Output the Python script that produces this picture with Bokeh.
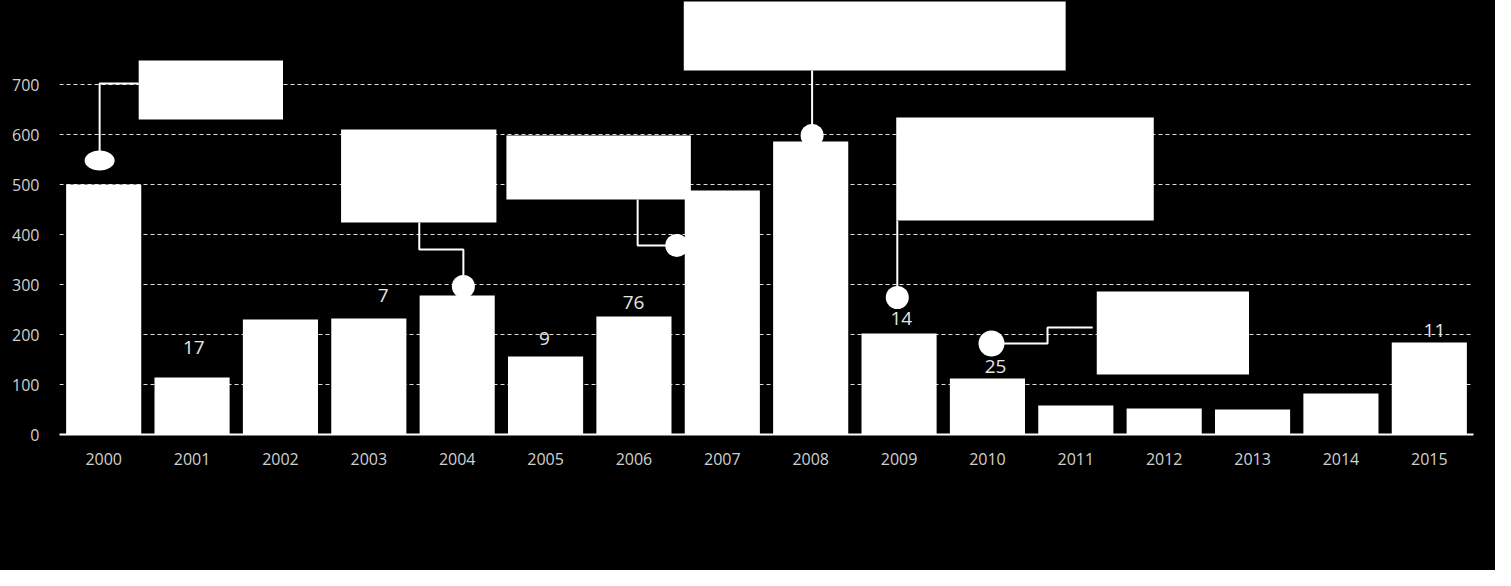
from bokeh.plotting import figure
from bokeh.models import Range1d, FixedTicker, ColumnDataSource
from bokeh.embed import file_html
from bokeh.resources import INLINE
from bokeh.core.properties import value

# ---- data ----
years = ["2000", "2001", "2002", "2003", "2004", "2005", "2006", "2007",
         "2008", "2009", "2010", "2011", "2012", "2013", "2014", "2015"]
counts = [500, 114, 230, 232, 278, 156, 236, 488, 586, 202, 112, 58, 52, 50, 82, 184]
y_ticks = [0, 100, 200, 300, 400, 500, 600, 700]

label_texts = ["17", "7", "9", "76", "14", "25", "11"]

# ---- layout of annotations (data units) ----
label_x = [1.019, 3.162, 4.988, 5.996, 9.025, 10.092, 15.058]
label_y = [174, 278, 192, 264, 232, 136, 208]

box_left = [0.396, 2.686, 4.557, 6.564, 8.968, 11.237]
box_right = [2.029, 4.444, 6.644, 10.885, 11.882, 12.960]
box_top = [748, 610, 598, 866, 634, 286]
box_bottom = [630, 424, 470, 728, 428, 120]

dot_x = [4.070, 6.485, 8.016, 8.980]
dot_y = [296, 378, 598, 274]
dot_x_big = [10.046]
dot_y_big = [182]
ell_x = [-0.046]
ell_y = [548]

conn_xs = [[-0.046, -0.046, 0.396],
           [4.070, 4.070, 3.571, 3.571],
           [6.485, 6.042, 6.042],
           [8.016, 8.016],
           [8.980, 8.980],
           [10.046, 10.680, 10.680, 11.191]]
conn_ys = [[548, 702, 702],
           [296, 370, 370, 424],
           [378, 378, 470],
           [598, 728],
           [274, 428],
           [182, 182, 214, 214]]

W, H = 1495, 570
p = figure(width=W, height=H, output_backend="svg", toolbar_location=None,
           x_range=Range1d(-0.5, 15.5), y_range=Range1d(0, 868),
           min_border_left=59, min_border_right=22, min_border_top=0,
           min_border_bottom=136)
p.background_fill_color = "#000000"
p.border_fill_color = "#000000"
p.outline_line_color = None
p.outline_line_alpha = 0
p.outline_line_width = 0
p.styles = {"background-color": "#000000"}

src = ColumnDataSource(dict(x=list(range(len(years))), top=counts))
p.vbar(x="x", top="top", width=0.85, source=src, fill_color="#ffffff",
       line_color=None)

# connectors
p.multi_line(xs=conn_xs, ys=conn_ys, line_color="#ffffff", line_width=2)
# markers
p.ellipse(x=ell_x, y=ell_y, width=30, height=20, width_units="screen",
          height_units="screen", fill_color="#ffffff", line_color=None)
p.scatter(x=dot_x, y=dot_y, marker="circle", size=23, fill_color="#ffffff",
          line_color=None)
p.scatter(x=dot_x_big, y=dot_y_big, marker="circle", size=26,
          fill_color="#ffffff", line_color=None)
# callout boxes
p.quad(left=box_left, right=box_right, top=box_top, bottom=box_bottom,
       fill_color="#ffffff", line_color=None)

# value labels
p.text(x=label_x, y=label_y, text=label_texts, text_align="center",
       text_baseline="middle", text_color="#e6e6e6", text_font_size="19px",
       text_font=value("Open Sans"))

# axes
xa = p.xaxis[0]
xa.ticker = FixedTicker(ticks=list(range(len(years))))
xa.major_label_overrides = {i: y for i, y in enumerate(years)}
xa.major_tick_out = 0
xa.major_tick_in = 0
xa.minor_tick_out = 0
xa.minor_tick_in = 0
xa.axis_line_color = "#ffffff"
xa.axis_line_width = 2
xa.major_label_standoff = 18
xa.major_label_text_color = "#d0d0d0"
xa.major_label_text_font_size = "16px"
xa.major_label_text_font = "Open Sans"

ya = p.yaxis[0]
ya.ticker = FixedTicker(ticks=y_ticks)
ya.axis_line_color = None
ya.major_tick_out = 0
ya.major_tick_in = 0
ya.minor_tick_out = 0
ya.minor_tick_in = 0
ya.major_label_standoff = 20
ya.major_label_text_color = "#d0d0d0"
ya.major_label_text_font_size = "16px"
ya.major_label_text_font = "Open Sans"

p.xgrid.visible = False
p.ygrid.ticker = FixedTicker(ticks=y_ticks)
p.ygrid.grid_line_color = "#e0e0e0"
p.ygrid.grid_line_dash = "4 3"
p.ygrid.grid_line_width = 1

html = file_html(p, INLINE)
html = html.replace("<body>", '<body style="background:#000000;">', 1)
open("out.html", "w").write(html)
